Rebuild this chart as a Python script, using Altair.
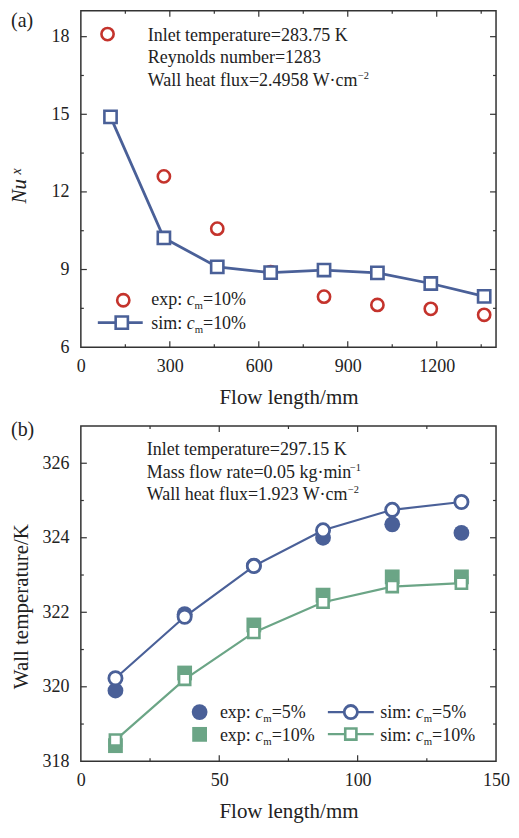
import altair as alt
import pandas as pd

FONT = "Liberation Serif"
BLUE = "#4A6098"
RED = "#C4332C"
GREEN = "#6BA586"
INK = "#222222"
FRAME = "#333333"

# ---------------- data: panel (a) ----------------
a_sim_x = [100, 280, 460, 640, 820, 1000, 1180, 1360]
a_sim_nu = [14.9, 10.22, 9.1, 8.88, 8.98, 8.87, 8.46, 7.96]
a_exp_x = [90, 280, 460, 640, 820, 1000, 1180, 1360]
a_exp_nu = [18.1, 12.6, 10.58, 8.9, 7.95, 7.63, 7.48, 7.25]
a_xlabels = [0, 300, 600, 900, 1200]
a_ylabels = [6, 9, 12, 15, 18]
a_xmajor = [300, 600, 900, 1200]
a_xminor = [150, 450, 750, 1050, 1350]
a_ymajor = [9, 12, 15, 18]
a_yminor = [7.5, 10.5, 13.5, 16.5]

# ---------------- data: panel (b) ----------------
b_x = [12.5, 37.5, 62.5, 87.5, 112.5, 137.5]
b_sim5 = [320.23, 321.88, 323.24, 324.2, 324.75, 324.96]
b_exp5 = [319.9, 321.95, 323.25, 324.0, 324.36, 324.13]
b_sim10 = [318.57, 320.2, 321.46, 322.27, 322.69, 322.78]
b_exp10 = [318.42, 320.37, 321.66, 322.46, 322.95, 322.95]
b_xlabels = [0, 50, 100, 150]
b_ylabels = [318, 320, 322, 324, 326]
b_xmajor = [50, 100]
b_xminor = [25, 75, 125]
b_ymajor = [320, 322, 324, 326]
b_yminor = [319, 321, 323, 325]

W = 416
HA = 337
HB = 336

# Times / Liberation Serif advance widths (per 1000 em)
REG = {" ": 250, "%": 833, "(": 333, ")": 333, ".": 250, "/": 278, ":": 278,
       "=": 564, "K": 722, "W": 944, "M": 889, "I": 333, "R": 667, "F": 556,
       "a": 444, "b": 500, "c": 444, "d": 500, "e": 444, "f": 333, "g": 500,
       "h": 500, "i": 278, "k": 500, "l": 278, "m": 778, "n": 500, "o": 500,
       "p": 500, "r": 333, "s": 389, "t": 278, "u": 500, "w": 722, "x": 500,
       "y": 500, "\u00b7": 250, "\u2212": 564}
for d in "0123456789":
    REG[d] = 500
ITA = {"c": 444, "m": 722, "x": 444, "N": 667, "u": 500}


def tw(s, size, italic=False):
    tbl = ITA if italic else REG
    return sum(tbl.get(ch, REG.get(ch, 500)) for ch in s) * size / 1000.0


def one():
    return alt.Data(values=[{"k": 0}])


def txt(text, x, y, size=18, style="normal", align="left", baseline="alphabetic",
        dy=0, angle=0):
    kw = dict(font=FONT, fontSize=size, fontStyle=style, align=align,
              baseline=baseline, color=INK)
    if dy:
        kw["dy"] = dy
    if angle:
        kw["angle"] = angle
    return alt.Chart(one()).mark_text(**kw).encode(
        x=alt.value(x), y=alt.value(y), text=alt.value(text))


def rich(parts, x, y, size=18):
    layers = []
    cx = x
    for text, kind in parts:
        if kind == "n":
            fs, st, dy = size, "normal", 0
        elif kind == "i":
            fs, st, dy = size, "italic", 0
        elif kind == "sub":
            fs, st, dy = round(size * 0.6, 1), "normal", 4
        else:  # sup
            fs, st, dy = round(size * 0.58, 1), "normal", -7
        layers.append(txt(text, cx, y, size=fs, style=st, dy=dy))
        cx += tw(text, fs, st == "italic")
    return layers


def ticks(xmaj, xmin, ymaj, ymin, xs, ys, h, w):
    layers = []
    for vals, L in ((xmaj, 6), (xmin, 3)):
        base = alt.Chart(pd.DataFrame({"v": vals})).mark_rule(color=FRAME, strokeWidth=1.2)
        layers.append(base.encode(x=alt.X("v:Q", scale=xs),
                                  y=alt.value(h), y2=alt.value(h - L)))
        layers.append(base.encode(x=alt.X("v:Q", scale=xs),
                                  y=alt.value(0), y2=alt.value(L)))
    for vals, L in ((ymaj, 6), (ymin, 3)):
        base = alt.Chart(pd.DataFrame({"v": vals})).mark_rule(color=FRAME, strokeWidth=1.2)
        layers.append(base.encode(y=alt.Y("v:Q", scale=ys),
                                  x=alt.value(0), x2=alt.value(L)))
        layers.append(base.encode(y=alt.Y("v:Q", scale=ys),
                                  x=alt.value(w), x2=alt.value(w - L)))
    return layers


def xaxis(values):
    return alt.Axis(values=values, format="d", ticks=False, tickSize=0, domain=False,
                    grid=False, labelFont=FONT, labelFontSize=18, labelColor=INK,
                    labelPadding=10, labelFlush=False, title="Flow length/mm",
                    titleFont=FONT, titleFontSize=21, titleFontWeight="normal",
                    titleColor=INK, titlePadding=11)


def yaxis(values):
    return alt.Axis(values=values, format="d", ticks=False, tickSize=0, domain=False,
                    grid=False, labelFont=FONT, labelFontSize=18, labelColor=INK,
                    labelPadding=12, labelFlush=False, title=None)


# ---------------- panel (a) ----------------
xa = alt.Scale(domain=[0, 1400], nice=False, zero=False)
ya = alt.Scale(domain=[6, 19], nice=False, zero=False)
df_a_sim = pd.DataFrame({"x": a_sim_x, "y": a_sim_nu})
df_a_exp = pd.DataFrame({"x": a_exp_x, "y": a_exp_nu})

a_exp = alt.Chart(df_a_exp).mark_point(
    shape="circle", filled=False, stroke=RED, strokeWidth=2.6, size=150, opacity=1
).encode(x=alt.X("x:Q", scale=xa, axis=xaxis(a_xlabels)),
         y=alt.Y("y:Q", scale=ya, axis=yaxis(a_ylabels)))
a_line = alt.Chart(df_a_sim).mark_line(color=BLUE, strokeWidth=2.8).encode(
    x=alt.X("x:Q", scale=xa), y=alt.Y("y:Q", scale=ya))
a_sq = alt.Chart(df_a_sim).mark_point(
    shape="square", filled=True, fill="white", stroke=BLUE, strokeWidth=2.6,
    size=150, opacity=1
).encode(x=alt.X("x:Q", scale=xa), y=alt.Y("y:Q", scale=ya))

a_layers = [a_exp, a_line, a_sq]
a_layers += ticks(a_xmajor, a_xminor, a_ymajor, a_yminor, xa, ya, HA, W)
# annotation
a_layers.append(txt("Inlet temperature=283.75 K", 67, 30.5))
a_layers.append(txt("Reynolds number=1283", 67, 52.7))
a_layers += rich([("Wall heat flux=2.4958 W\u00b7cm", "n"), ("\u22122", "sup")], 67, 74.9)
# legend
a_layers.append(alt.Chart(one()).mark_point(
    shape="circle", filled=False, stroke=RED, strokeWidth=2.6, size=150, opacity=1
).encode(x=alt.value(42.5), y=alt.value(290)))
a_layers.append(alt.Chart(one()).mark_rule(color=BLUE, strokeWidth=2.8).encode(
    x=alt.value(17), x2=alt.value(62), y=alt.value(312.5)))
a_layers.append(alt.Chart(one()).mark_point(
    shape="square", filled=True, fill="white", stroke=BLUE, strokeWidth=2.6,
    size=150, opacity=1
).encode(x=alt.value(41), y=alt.value(312.5)))
a_layers += rich([("exp: ", "n"), ("c", "i"), ("m", "sub"), ("=10%", "n")], 70.5, 294.5)
a_layers += rich([("sim: ", "n"), ("c", "i"), ("m", "sub"), ("=10%", "n")], 70.5, 318.5)
# panel label + y title
a_layers.append(txt("(a)", -70, 0, size=20, baseline="top"))
a_layers.append(txt("Nu", -55, 193, size=21, style="italic", angle=270))
a_layers.append(txt("x", -60, 164, size=14, style="italic", angle=270))

panel_a = alt.layer(*a_layers).properties(width=W, height=HA)

# ---------------- panel (b) ----------------
xb = alt.Scale(domain=[0, 150], nice=False, zero=False)
yb = alt.Scale(domain=[318, 327], nice=False, zero=False)
df_b = pd.DataFrame({"x": b_x, "sim5": b_sim5, "exp5": b_exp5,
                     "sim10": b_sim10, "exp10": b_exp10})

b_exp5_l = alt.Chart(df_b).mark_point(
    shape="circle", filled=True, color=BLUE, size=250, opacity=1, strokeWidth=0
).encode(x=alt.X("x:Q", scale=xb, axis=xaxis(b_xlabels)),
         y=alt.Y("exp5:Q", scale=yb, axis=yaxis(b_ylabels)))
b_exp10_l = alt.Chart(df_b).mark_point(
    shape="square", filled=True, color=GREEN, size=220, opacity=1, strokeWidth=0
).encode(x=alt.X("x:Q", scale=xb), y=alt.Y("exp10:Q", scale=yb))
b_line5 = alt.Chart(df_b).mark_line(color=BLUE, strokeWidth=2.2).encode(
    x=alt.X("x:Q", scale=xb), y=alt.Y("sim5:Q", scale=yb))
b_line10 = alt.Chart(df_b).mark_line(color=GREEN, strokeWidth=2.2).encode(
    x=alt.X("x:Q", scale=xb), y=alt.Y("sim10:Q", scale=yb))
b_sim5_l = alt.Chart(df_b).mark_point(
    shape="circle", filled=True, fill="white", stroke=BLUE, strokeWidth=2.8,
    size=175, opacity=1
).encode(x=alt.X("x:Q", scale=xb), y=alt.Y("sim5:Q", scale=yb))
b_sim10_l = alt.Chart(df_b).mark_point(
    shape="square", filled=True, fill="white", stroke=GREEN, strokeWidth=2.6,
    size=125, opacity=1
).encode(x=alt.X("x:Q", scale=xb), y=alt.Y("sim10:Q", scale=yb))

b_layers = [b_exp5_l, b_exp10_l, b_line5, b_line10, b_sim5_l, b_sim10_l]
b_layers += ticks(b_xmajor, b_xminor, b_ymajor, b_yminor, xb, yb, HB, W)
b_layers.append(txt("Inlet temperature=297.15 K", 66, 29.5))
b_layers += rich([("Mass flow rate=0.05 kg\u00b7min", "n"), ("\u22121", "sup")], 66, 52)
b_layers += rich([("Wall heat flux=1.923 W\u00b7cm", "n"), ("\u22122", "sup")], 66, 74.5)
# legend
b_layers.append(alt.Chart(one()).mark_point(
    shape="circle", filled=True, color=BLUE, size=250, opacity=1, strokeWidth=0
).encode(x=alt.value(119), y=alt.value(286.7)))
b_layers.append(alt.Chart(one()).mark_point(
    shape="square", filled=True, color=GREEN, size=220, opacity=1, strokeWidth=0
).encode(x=alt.value(119), y=alt.value(309)))
b_layers.append(alt.Chart(one()).mark_rule(color=BLUE, strokeWidth=2.2).encode(
    x=alt.value(247.5), x2=alt.value(293.5), y=alt.value(286.7)))
b_layers.append(alt.Chart(one()).mark_rule(color=GREEN, strokeWidth=2.2).encode(
    x=alt.value(247.5), x2=alt.value(293.5), y=alt.value(308.7)))
b_layers.append(alt.Chart(one()).mark_point(
    shape="circle", filled=True, fill="white", stroke=BLUE, strokeWidth=2.8,
    size=175, opacity=1
).encode(x=alt.value(270.5), y=alt.value(286.7)))
b_layers.append(alt.Chart(one()).mark_point(
    shape="square", filled=True, fill="white", stroke=GREEN, strokeWidth=2.6,
    size=125, opacity=1
).encode(x=alt.value(270.5), y=alt.value(308.7)))
b_layers += rich([("exp: ", "n"), ("c", "i"), ("m", "sub"), ("=5%", "n")], 139.3, 292.7)
b_layers += rich([("exp: ", "n"), ("c", "i"), ("m", "sub"), ("=10%", "n")], 139.3, 316)
b_layers += rich([("sim: ", "n"), ("c", "i"), ("m", "sub"), ("=5%", "n")], 300, 292.7)
b_layers += rich([("sim: ", "n"), ("c", "i"), ("m", "sub"), ("=10%", "n")], 300, 316)
b_layers.append(txt("(b)", -70, -6, size=20, baseline="top"))
b_layers.append(txt("Wall temperature/K", -53, 181, size=21, align="center", angle=270))

panel_b = alt.layer(*b_layers).properties(width=W, height=HB)

chart = alt.vconcat(panel_a, panel_b, spacing=11, padding=0).configure(
    background="white"
).configure_view(stroke=FRAME, strokeWidth=1.5)

chart.save("out.html", embed_options={"renderer": "svg", "actions": False})
